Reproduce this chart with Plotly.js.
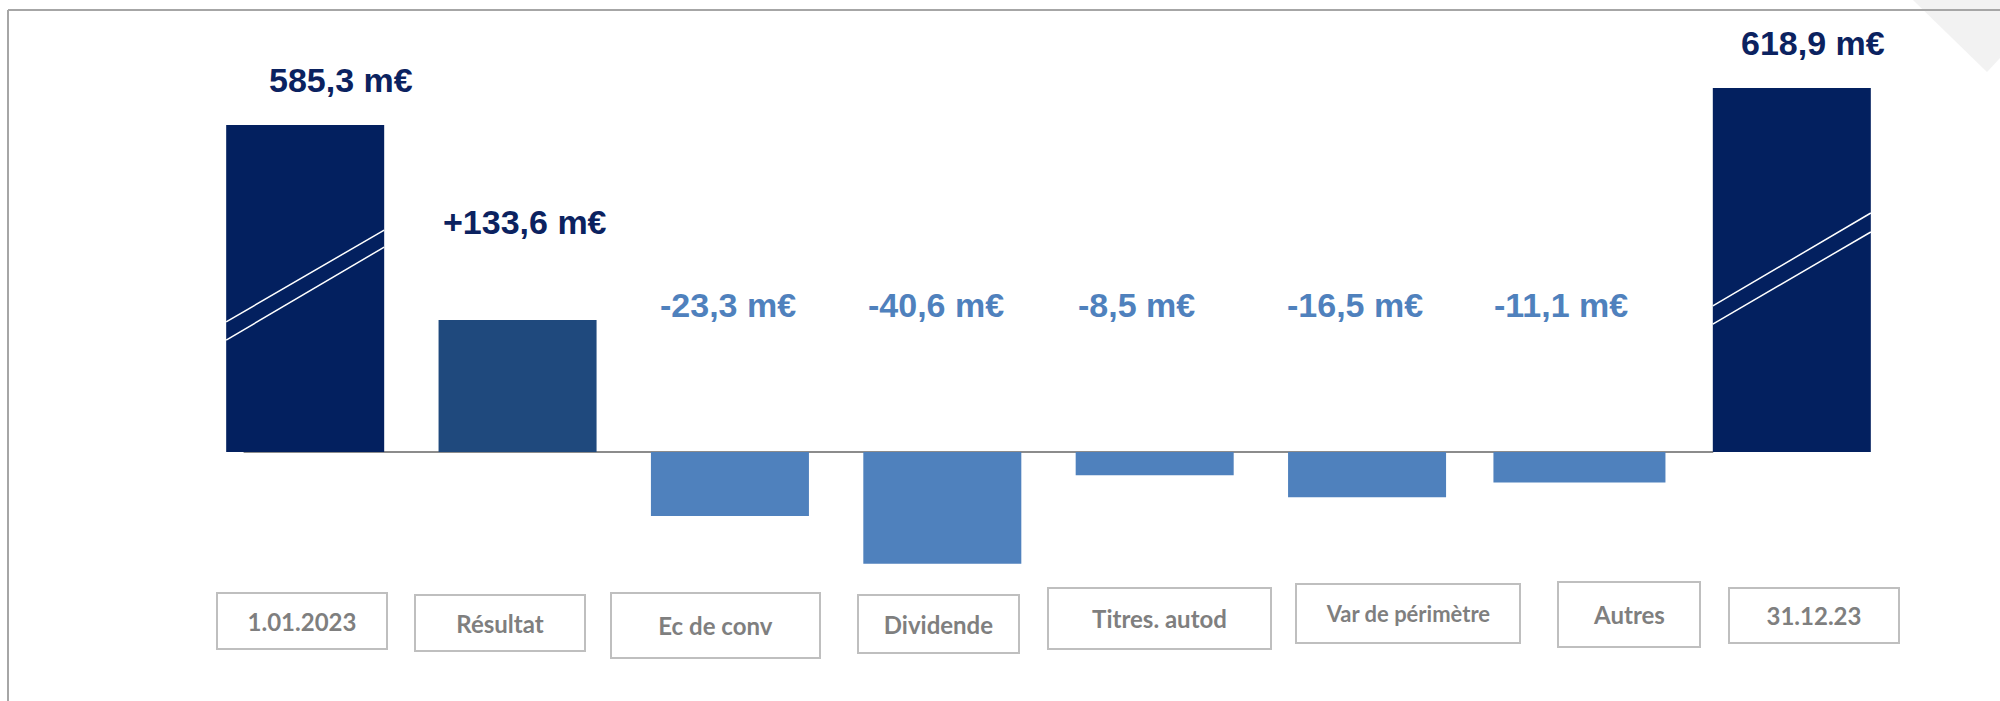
<!DOCTYPE html>
<html>
<head>
<meta charset="utf-8">
<script src="https://cdn.plot.ly/plotly-3.0.1.min.js"></script>
<style>html,body{margin:0;padding:0;background:#fff;}#chart{width:2000px;height:701px;}</style>
</head>
<body>
<div id="chart"></div>
<script>
// ---- data ----
const categories = ['1.01.2023', 'Résultat', 'Ec de conv', 'Dividende', 'Titres. autod', 'Var de périmètre', 'Autres', '31.12.23'];
const amounts = [585.3, 133.6, -23.3, -40.6, -8.5, -16.5, -11.1, 618.9];   // m€, as labelled
// bar lengths as drawn (the two totals and the result sit on a broken axis)
const shownHeight = [118.9, 48.0, -23.3, -40.6, -8.5, -16.5, -11.1, 132.4];
const isTotal = [true, false, false, false, false, false, false, true];

// ---- styling ----
const barColors = ['#03205F', '#1F497D', '#4F81BD', '#4F81BD', '#4F81BD', '#4F81BD', '#4F81BD', '#03205F'];
const barWidths = [0.744, 0.744, 0.744, 0.744, 0.744, 0.744, 0.81, 0.744];
const boxStyle = [
  {w: 172, h: 58, dx: -3,  y: -61.5, size: 24},
  {w: 172, h: 58, dx: -18, y: -62.2, size: 24},
  {w: 211, h: 67, dx: -14, y: -63.1, size: 24},
  {w: 163, h: 60, dx: -4,  y: -62.5, size: 24},
  {w: 225, h: 63, dx: 5,   y: -60.5, size: 24},
  {w: 226, h: 61, dx: 41,  y: -58.7, size: 22},
  {w: 144, h: 67, dx: 50,  y: -59.1, size: 24},
  {w: 172, h: 57, dx: 22,  y: -59.5, size: 24}
];
const labelDx = [36, 7, -2, -6, -18, -12, -18, 21];

function fmt(v, total) {
  const s = Math.abs(v).toFixed(1).replace('.', ',') + ' m€';
  if (total) return s;
  return (v > 0 ? '+' : '-') + s;
}

const L = 199, R = 102, W = 2000, H = 701;
const xp = px => (px - L) / (W - L - R);
const yp = py => 1 - py / H;

const trace = {
  type: 'bar',
  x: categories,
  y: shownHeight,
  width: barWidths,
  marker: {color: barColors, line: {width: 0}},
  hoverinfo: 'none',
  cliponaxis: false
};

const annotations = [];
categories.forEach((c, i) => {
  const v = amounts[i];
  let y;
  if (isTotal[i]) y = shownHeight[i] + 16.4;
  else if (v > 0) y = shownHeight[i] + 35.6;
  else y = 53.5;
  annotations.push({
    x: c, y: y, xref: 'x', yref: 'y', showarrow: false,
    xshift: labelDx[i], yanchor: 'middle', xanchor: 'center',
    text: '<b>' + fmt(v, isTotal[i]) + '</b>',
    font: {family: '"Liberation Sans", Arial, sans-serif', size: 34, color: v > 0 ? '#0B2260' : '#4F81BD'}
  });
  const b = boxStyle[i];
  annotations.push({
    x: c, y: b.y, xref: 'x', yref: 'y', showarrow: false,
    xshift: b.dx, yanchor: 'middle', xanchor: 'center',
    width: b.w - 4, height: b.h - 4, align: 'center', valign: 'middle',
    bordercolor: '#BFBFBF', borderwidth: 2, borderpad: 0, bgcolor: '#FFFFFF',
    text: '<b>' + c + '</b>',
    font: {family: 'Lato, Calibri, sans-serif', size: b.size, color: '#7F7F7F'}
  });
});

const shapes = [
  // light decorative triangle top right
  {type: 'path', xref: 'paper', yref: 'paper', layer: 'below',
   path: `M ${xp(1913)} ${yp(0)} L ${xp(2000)} ${yp(0)} L ${xp(2000)} ${yp(58)} L ${xp(1987)} ${yp(72)} Z`,
   fillcolor: '#F2F2F2', line: {width: 0}},
  // frame
  {type: 'line', xref: 'paper', yref: 'paper', x0: xp(8), x1: xp(2000), y0: yp(10), y1: yp(10),
   line: {color: '#A6A6A6', width: 2}},
  {type: 'line', xref: 'paper', yref: 'paper', x0: xp(8), x1: xp(8), y0: yp(10), y1: yp(701),
   line: {color: '#A6A6A6', width: 2}},
  // baseline
  {type: 'line', xref: 'x', yref: 'y', layer: 'below', x0: -0.29, x1: 6.63, y0: 0, y1: 0,
   line: {color: '#8C8C8C', width: 2}},
  // break marks on the total bars
  {type: 'line', xref: 'x', yref: 'y', x0: -0.372, x1: 0.372, y0: 47.3, y1: 80.7, line: {color: '#FFFFFF', width: 1.5}},
  {type: 'line', xref: 'x', yref: 'y', x0: -0.372, x1: 0.372, y0: 40.7, y1: 74.5, line: {color: '#FFFFFF', width: 1.5}},
  {type: 'line', xref: 'x', yref: 'y', x0: 6.628, x1: 7.372, y0: 53.1, y1: 86.9, line: {color: '#FFFFFF', width: 1.5}},
  {type: 'line', xref: 'x', yref: 'y', x0: 6.628, x1: 7.372, y0: 46.5, y1: 80.0, line: {color: '#FFFFFF', width: 1.5}}
];

const layout = {
  width: W, height: H,
  margin: {l: L, r: R, t: 0, b: 0, pad: 0},
  paper_bgcolor: '#FFFFFF', plot_bgcolor: 'rgba(0,0,0,0)',
  showlegend: false,
  xaxis: {type: 'category', range: [-0.5, 7.5], showticklabels: false, showgrid: false, zeroline: false, showline: false, ticks: '', fixedrange: true},
  yaxis: {range: [-90.55, 164.36], showticklabels: false, showgrid: false, zeroline: false, showline: false, ticks: '', fixedrange: true},
  annotations: annotations,
  shapes: shapes
};

Plotly.newPlot('chart', [trace], layout, {staticPlot: true, displayModeBar: false});
</script>
</body>
</html>
